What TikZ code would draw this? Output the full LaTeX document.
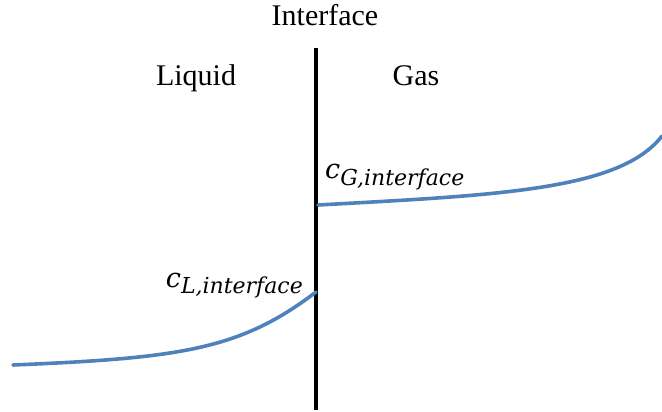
\documentclass[tikz,border=0pt]{standalone}
\usepackage{fontspec}
\setmainfont{Liberation Serif}
\newfontfamily\lblfont{DejaVu Serif}
\begin{document}
\begin{tikzpicture}[x=1pt,y=-1pt,
  title/.style={inner sep=0pt,font=\fontsize{30}{30}\selectfont},
  conc/.style={inner sep=0pt,font=\lblfont\itshape},
  profile/.style={draw={rgb,255:red,79;green,129;blue,189},line width=3.6pt,line cap=round},
  wall/.style={draw=black,line width=3.6pt}]
\useasboundingbox (0,0) rectangle (662,412);
\node[title,anchor=base] (ttl) at (325,26) {Interface};
\node[title,anchor=base] (liq) at (196,85) {Liquid};
\node[title,anchor=base] (gas) at (416,85) {Gas};
\coordinate (top) at (316,48);
\coordinate (bot) at (316,410);
\draw[wall] (top) -- (bot);
\coordinate (l0) at (13,365);
\coordinate (l1) at (316,292);
\coordinate (g0) at (318,205);
\coordinate (g1) at (662,136);
\draw[profile] (l0) .. controls (180,358) and (240,350) .. (l1);
\draw[profile] (g0) .. controls (500,195) and (620,190) .. (g1);
\node[conc,anchor=base east] (cl) at (303,287)
  {{\fontsize{27}{27}\selectfont c}\raisebox{-6pt}{\fontsize{22}{22}\selectfont L,interface}};
\node[conc,anchor=base west] (cg) at (325,178)
  {{\fontsize{27}{27}\selectfont c}\raisebox{-7pt}{\fontsize{22}{22}\selectfont G,interface}};
\end{tikzpicture}
\end{document}
